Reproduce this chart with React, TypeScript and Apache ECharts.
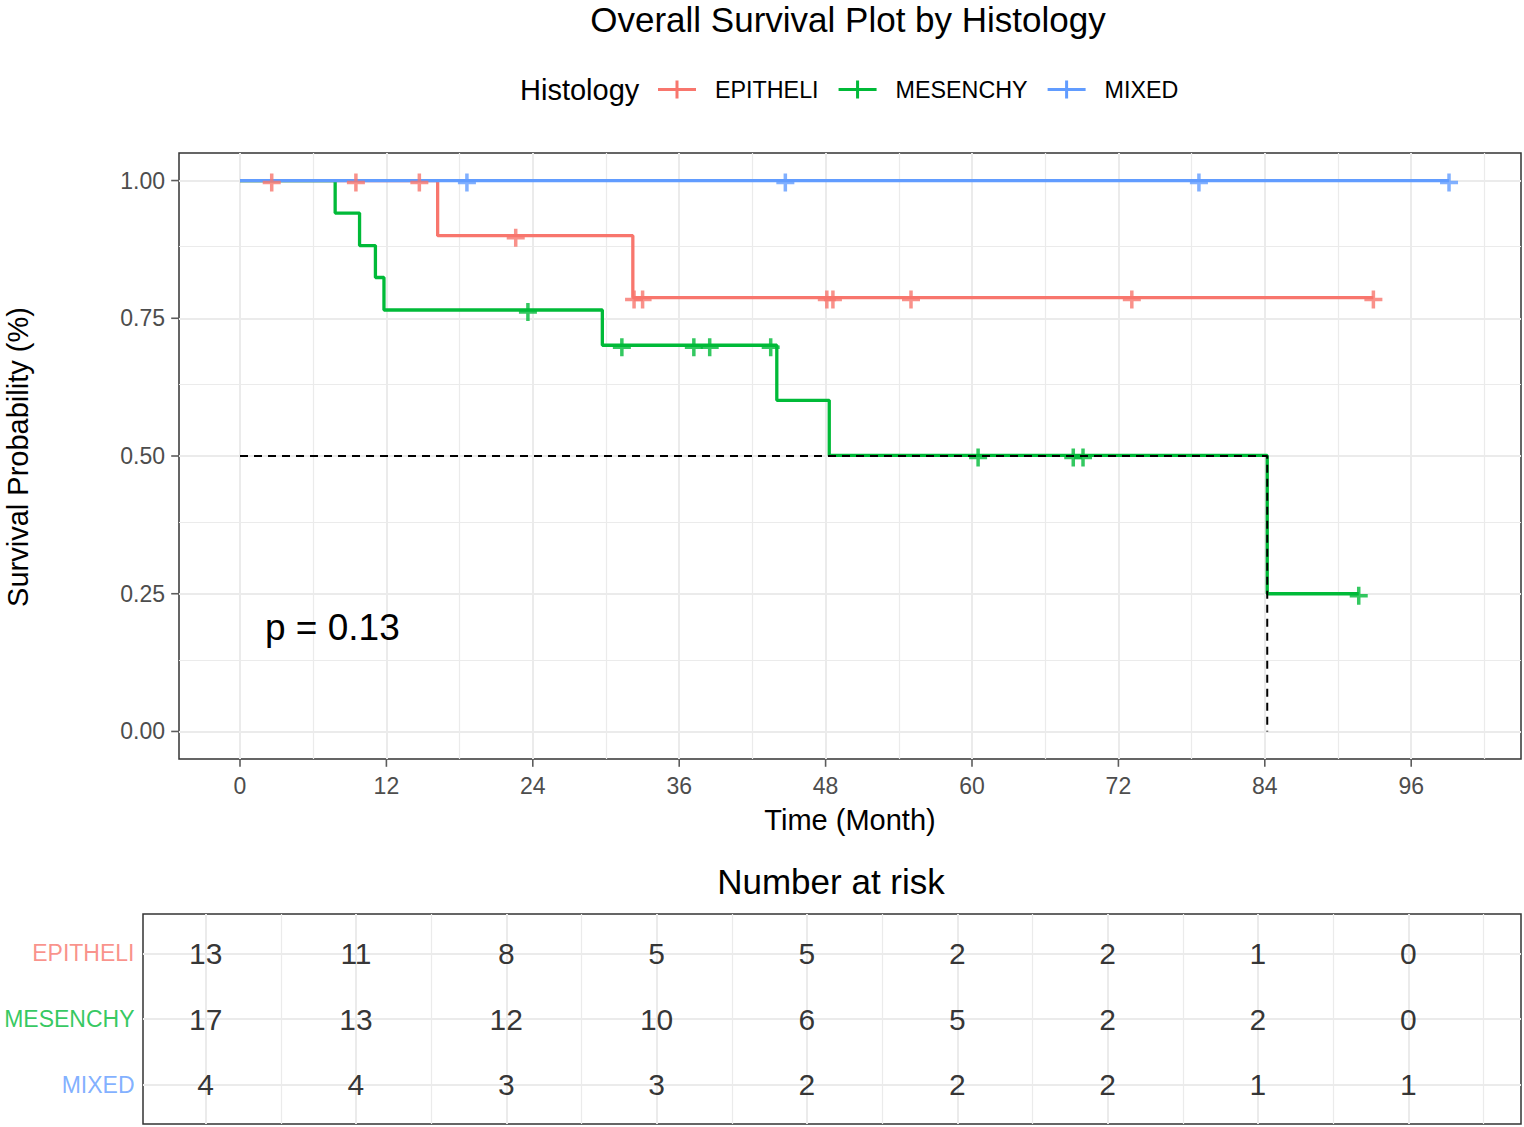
import React, { useEffect, useRef } from 'react';
import * as echarts from 'echarts';

const FONT = "'Liberation Sans', Arial, Helvetica, sans-serif";

const groups = ['EPITHELI', 'MESENCHY', 'MIXED'];
const colors = ['#F8766D', '#00BA38', '#619CFF'];

// Kaplan-Meier steps: times (months) and survival after each step
const epiStepTimes = [0, 16.2, 32.2, 92.9];
const epiStepSurv = [1, 0.9, 0.7875, 0.7875];
const mesStepTimes = [0, 7.8, 9.8, 11.1, 11.8, 29.7, 44.0, 48.3, 84.2, 91.7];
const mesStepSurv = [1, 0.941, 0.882, 0.824, 0.765, 0.701, 0.601, 0.501, 0.25, 0.25];
const mixStepTimes = [0, 99.1];
const mixStepSurv = [1, 1];

// censoring times
const epiCensor = [2.6, 9.5, 14.7, 22.6, 32.3, 33.0, 48.1, 48.6, 55.0, 73.1, 92.9];
const mesCensor = [23.6, 31.3, 37.2, 38.5, 43.5, 60.5, 68.3, 69.1, 91.7];
const mixCensor = [18.6, 44.7, 78.6, 99.1];

// number at risk table
const riskTimes = [0, 12, 24, 36, 48, 60, 72, 84, 96];
const riskEpi = [13, 11, 8, 5, 5, 2, 2, 1, 0];
const riskMes = [17, 13, 12, 10, 6, 5, 2, 2, 0];
const riskMix = [4, 4, 3, 3, 2, 2, 2, 1, 1];
const riskRows = [3, 2, 1];

const medianTime = 84.2;
const medianSurv = 0.5;
const pValueText = 'p = 0.13';

const xMin = -5;
const xMax = 105;
const yMin = -0.05;
const yMax = 1.05;
const xTicks = [0, 12, 24, 36, 48, 60, 72, 84, 96];
const xMinor = [6, 18, 30, 42, 54, 66, 78, 90, 102];
const yTicks = [0, 0.25, 0.5, 0.75, 1];
const yMinor = [0.125, 0.375, 0.625, 0.875];

const PLUS = 'path://M7.25,0H10.75V7.25H18V10.75H10.75V18H7.25V10.75H0V7.25H7.25Z';
const LEGEND_ICON = 'path://M0,7.5H17.5V0H20.5V7.5H38V10.5H20.5V18H17.5V10.5H0Z';

function survAt(times: number[], surv: number[], t: number) {
  let v = surv[0];
  for (let i = 0; i < times.length; i++) if (times[i] <= t) v = surv[i];
  return v;
}

const GRID_COLOR = '#EBEBEB';

function gridMarkLine(xMaj: number[], xMin2: number[], yMaj: number[], yMin2: number[]) {
  const data: any[] = [];
  xMin2.forEach((v) => data.push({ xAxis: v, lineStyle: { width: 1.2, color: GRID_COLOR, type: 'solid' } }));
  yMin2.forEach((v) => data.push({ yAxis: v, lineStyle: { width: 1.2, color: GRID_COLOR, type: 'solid' } }));
  xMaj.forEach((v) => data.push({ xAxis: v, lineStyle: { width: 2, color: GRID_COLOR, type: 'solid' } }));
  yMaj.forEach((v) => data.push({ yAxis: v, lineStyle: { width: 2, color: GRID_COLOR, type: 'solid' } }));
  return {
    silent: true,
    z: 0,
    zlevel: 0,
    symbol: ['none', 'none'],
    label: { show: false },
    emphasis: { disabled: true },
    animation: false,
    data,
  };
}

export default function App() {
  const ref = useRef<HTMLDivElement>(null);
  useEffect(() => {
    if (!ref.current) return;
    const chart = echarts.init(ref.current, undefined, { renderer: 'svg' });

    const steps = [
      [epiStepTimes, epiStepSurv],
      [mesStepTimes, mesStepSurv],
      [mixStepTimes, mixStepSurv],
    ];
    const censors = [epiCensor, mesCensor, mixCensor];
    const risks = [riskEpi, riskMes, riskMix];

    const curveSeries = groups.map((g, i) => ({
      type: 'line',
      name: g,
      xAxisIndex: 0,
      yAxisIndex: 0,
      step: 'end',
      showSymbol: false,
      color: colors[i],
      lineStyle: { color: colors[i], width: 3.3 },
      data: steps[i][0].map((t, k) => [t, steps[i][1][k]]),
      z: 3,
    }));

    const censorSeries = groups.map((g, i) => ({
      type: 'scatter',
      name: g,
      xAxisIndex: 0,
      yAxisIndex: 0,
      symbol: PLUS,
      symbolSize: 18,
      symbolOffset: [0, 2],
      color: colors[i],
      itemStyle: { color: colors[i] },
      data: censors[i].map((t) => [t, survAt(steps[i][0], steps[i][1], t)]),
      z: 4,
    }));

    const riskSeries = groups.map((g, i) => ({
      type: 'scatter',
      name: 'risk-' + g,
      xAxisIndex: 1,
      yAxisIndex: 1,
      symbolSize: 1,
      itemStyle: { color: 'rgba(0,0,0,0)' },
      label: {
        show: true,
        position: 'inside',
        formatter: (p: any) => String(p.value[2]),
        fontFamily: FONT,
        fontSize: 30,
        color: '#000',
      },
      data: riskTimes.map((t, k) => [t, riskRows[i], risks[i][k]]),
      z: 4,
    }));

    const option: any = {
      animation: false,
      backgroundColor: '#fff',
      textStyle: { fontFamily: FONT },
      grid: [
        { left: 179, right: 3, top: 153, height: 606, show: true, borderColor: '#333', borderWidth: 1.5, backgroundColor: 'transparent' },
        { left: 143, right: 3, top: 914, height: 210, show: true, borderColor: '#333', borderWidth: 1.5, backgroundColor: 'transparent' },
      ],
      xAxis: [
        {
          type: 'value', gridIndex: 0, min: xMin, max: xMax, position: 'bottom',
          axisLine: { show: false, onZero: false },
          axisTick: { show: false },
          axisLabel: { customValues: xTicks, fontSize: 23, color: '#4D4D4D', margin: 15, fontFamily: FONT },
          splitLine: { show: false },
        },
        {
          type: 'value', gridIndex: 1, min: xMin, max: xMax,
          axisLine: { show: false, onZero: false }, axisTick: { show: false }, axisLabel: { show: false },
          splitLine: { show: false },
        },
      ],
      yAxis: [
        {
          type: 'value', gridIndex: 0, min: yMin, max: yMax, position: 'left',
          axisLine: { show: false, onZero: false },
          axisTick: { show: false },
          axisLabel: { customValues: yTicks, fontSize: 23, color: '#4D4D4D', margin: 14, fontFamily: FONT, formatter: (v: number) => v.toFixed(2) },
          splitLine: { show: false },
        },
        {
          type: 'value', gridIndex: 1, min: 0.4, max: 3.6,
          axisLine: { show: false, onZero: false }, axisTick: { show: false }, axisLabel: { show: false },
          splitLine: { show: false },
        },
      ],
      legend: {
        left: 658,
        top: 78,
        itemWidth: 38,
        itemHeight: 18,
        itemGap: 20,
        padding: 0,
        selectedMode: false,
        textStyle: { fontSize: 23.3, color: '#000', fontFamily: FONT, padding: [0, 0, 0, 14] },
        data: groups.map((g) => ({ name: g, icon: LEGEND_ICON })),
      },
      graphic: [
        { type: 'text', x: 848, y: 19, z: 10, style: { text: 'Overall Survival Plot by Histology', fontSize: 35, fontFamily: FONT, fill: '#000', textAlign: 'center', textVerticalAlign: 'middle', align: 'center', verticalAlign: 'middle' } },
        { type: 'text', x: 520, y: 90, z: 10, style: { text: 'Histology', fontSize: 29, fontFamily: FONT, fill: '#000', textAlign: 'left', textVerticalAlign: 'middle', align: 'left', verticalAlign: 'middle' } },
        { type: 'text', x: 265, y: 627, z: 10, style: { text: pValueText, fontSize: 37, fontFamily: FONT, fill: '#000', textAlign: 'left', textVerticalAlign: 'middle', align: 'left', verticalAlign: 'middle' } },
        { type: 'text', x: 850, y: 820, z: 10, style: { text: 'Time (Month)', fontSize: 29, fontFamily: FONT, fill: '#000', textAlign: 'center', textVerticalAlign: 'middle', align: 'center', verticalAlign: 'middle' } },
        { type: 'text', x: 18, y: 457, z: 10, rotation: Math.PI / 2, style: { text: 'Survival Probability (%)', fontSize: 29, fontFamily: FONT, fill: '#000', textAlign: 'center', textVerticalAlign: 'middle', align: 'center', verticalAlign: 'middle' } },
        { type: 'text', x: 831, y: 881, z: 10, style: { text: 'Number at risk', fontSize: 35, fontFamily: FONT, fill: '#000', textAlign: 'center', textVerticalAlign: 'middle', align: 'center', verticalAlign: 'middle' } },
      ],
      series: [
        {
          type: 'line', name: 'grid-main', xAxisIndex: 0, yAxisIndex: 0, data: [], z: 0,
          markLine: gridMarkLine(xTicks, xMinor, yTicks, yMinor),
        },
        // axis tick marks drawn outside the panel at the axis edges
        {
          type: 'scatter', name: 'x-ticks', xAxisIndex: 0, yAxisIndex: 0, clip: false, silent: true,
          symbol: 'rect', symbolSize: [1.6, 7], symbolOffset: [0, 4.3],
          itemStyle: { color: '#333' },
          data: xTicks.map((t) => [t, yMin]),
          z: 2,
        },
        {
          type: 'scatter', name: 'y-ticks', xAxisIndex: 0, yAxisIndex: 0, clip: false, silent: true,
          symbol: 'rect', symbolSize: [7, 1.6], symbolOffset: [-4.3, 0],
          itemStyle: { color: '#333' },
          data: yTicks.map((v) => [xMin, v]),
          z: 2,
        },
        ...curveSeries,
        ...censorSeries,
        {
          type: 'line', name: 'median', xAxisIndex: 0, yAxisIndex: 0, showSymbol: false,
          lineStyle: { color: '#000', width: 2, type: [8, 6] },
          data: [[0, medianSurv], [medianTime, medianSurv], [medianTime, 0]],
          z: 5,
        },
        {
          type: 'line', name: 'grid-table', xAxisIndex: 1, yAxisIndex: 1, data: [], z: 0,
          markLine: gridMarkLine(xTicks, xMinor, riskRows, []),
        },
        ...riskSeries,
        {
          type: 'scatter', name: 'row-labels', xAxisIndex: 1, yAxisIndex: 1,
          symbolSize: 1, itemStyle: { color: 'rgba(0,0,0,0)' },
          label: { show: true },
          data: groups.map((g, i) => ({
            value: [xMin, riskRows[i]],
            label: { show: true, position: 'left', distance: 8, formatter: g, color: colors[i], fontSize: 23, fontFamily: FONT },
          })),
          z: 4,
        },
      ],
    };
    chart.setOption(option);
    return () => chart.dispose();
  }, []);
  return <div ref={ref} style={{ position: 'absolute', left: 0, top: 0, width: 1524, height: 1127 }} />;
}
